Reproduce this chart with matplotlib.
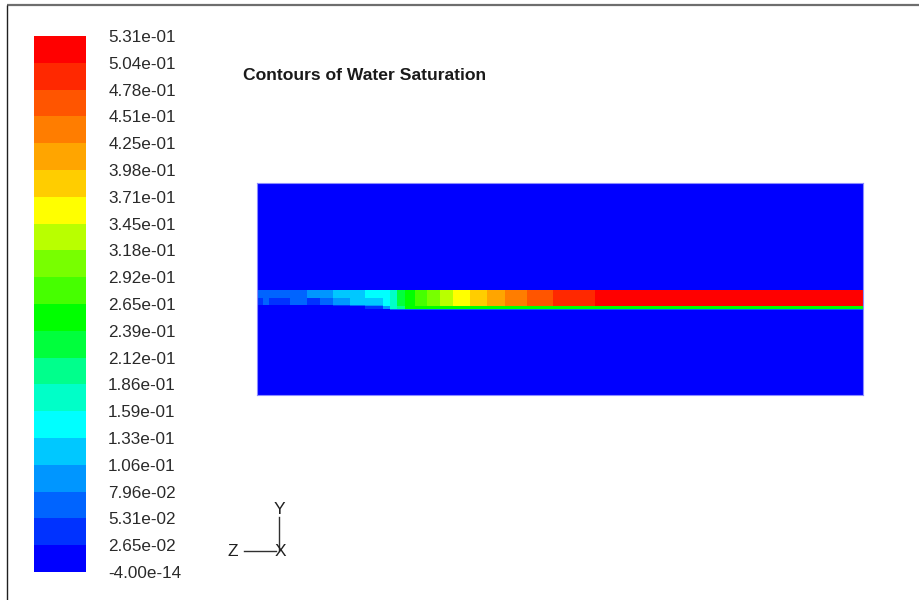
import numpy as np
import matplotlib
matplotlib.use("Agg")
import matplotlib.pyplot as plt
from matplotlib.colors import ListedColormap, BoundaryNorm

plt.rcParams['font.family'] = ['Liberation Sans', 'DejaVu Sans']

# colour scale of the legend, bottom -> top
level_labels = ["-4.00e-14", "2.65e-02", "5.31e-02", "7.96e-02", "1.06e-01",
                "1.33e-01", "1.59e-01", "1.86e-01", "2.12e-01", "2.39e-01",
                "2.65e-01", "2.92e-01", "3.18e-01", "3.45e-01", "3.71e-01",
                "3.98e-01", "4.25e-01", "4.51e-01", "4.78e-01", "5.04e-01",
                "5.31e-01"]
levels = [float(s) for s in level_labels]

band_colors = ["#0000ff", "#0032ff", "#0064ff", "#0096ff", "#00c8ff",
               "#00ffff", "#00ffc8", "#00ff8c", "#00ff3c", "#00ff00",
               "#46ff00", "#78ff00", "#b9ff00", "#ffff00", "#ffcd00",
               "#ffa500", "#ff7d00", "#ff5500", "#ff2800", "#ff0000"]

# domain geometry (x/L, y/H) of the saturation field
x_edges = [0, 0.01, 0.02, 0.055, 0.083, 0.104, 0.125, 0.154, 0.178, 0.208,
           0.22, 0.231, 0.244, 0.261, 0.281, 0.302, 0.323, 0.352, 0.38,
           0.409, 0.446, 0.488, 0.558, 1.0]
y_edges = [0, 0.400, 0.4057, 0.4175, 0.4245, 0.4552, 0.493, 1.0]

# water saturation in the layer, one row per band of cells (bottom -> top)
sat_under = [0.01, 0.01, 0.01, 0.01, 0.01, 0.01, 0.01, 0.01, 0.01, 0.01,
             0.065, 0.065, 0.065, 0.065, 0.065, 0.065, 0.065, 0.065, 0.065,
             0.065, 0.065, 0.065, 0.065]
sat_interface = [0.01, 0.01, 0.01, 0.01, 0.01, 0.01, 0.01, 0.01, 0.04, 0.09,
                 0.17, 0.2, 0.25, 0.25, 0.25, 0.25, 0.25, 0.25, 0.25,
                 0.25, 0.25, 0.25, 0.25]
sat_edge = [0.01, 0.01, 0.01, 0.01, 0.01, 0.01, 0.04, 0.065, 0.09, 0.14,
            0.17, 0.225, 0.25, 0.28, 0.30, 0.33, 0.36, 0.385, 0.41,
            0.44, 0.465, 0.49, 0.52]
sat_lower = [0.04, 0.065, 0.04, 0.065, 0.04, 0.065, 0.09, 0.12, 0.12, 0.14,
             0.17, 0.225, 0.25, 0.28, 0.30, 0.33, 0.36, 0.385, 0.41,
             0.44, 0.465, 0.49, 0.52]
sat_upper = [0.065, 0.065, 0.065, 0.065, 0.09, 0.09, 0.12, 0.12, 0.14, 0.145,
             0.17, 0.225, 0.25, 0.28, 0.30, 0.33, 0.36, 0.385, 0.41,
             0.44, 0.465, 0.49, 0.52]

ncol = len(x_edges) - 1
field = np.vstack([np.zeros(ncol), sat_under, sat_interface, sat_edge,
                   sat_lower, sat_upper, np.zeros(ncol)])

cmap = ListedColormap(band_colors)
norm = BoundaryNorm(levels, cmap.N)

W, H = 920, 600
fig = plt.figure(figsize=(W / 100, H / 100), dpi=100)

def px_axes(x0, y0, x1, y1, **kw):
    return fig.add_axes([x0 / W, 1 - y1 / H, (x1 - x0) / W, (y1 - y0) / H], **kw)

# contour domain
ax = px_axes(257, 183, 863, 395)
mesh = ax.pcolormesh(x_edges, y_edges, field, cmap=cmap, norm=norm,
                     shading='flat', antialiased=False, edgecolors='none')
ax.set_xlim(0, 1)
ax.set_ylim(0, 1)
ax.set_xticks([])
ax.set_yticks([])
for s in ax.spines.values():
    s.set_color('#8c8cff')
    s.set_linewidth(0.8)

# legend bar
cax = px_axes(34, 36, 86, 572)
cb = fig.colorbar(mesh, cax=cax, ticks=levels, spacing='uniform')
cb.outline.set_visible(False)
cb.ax.set_yticklabels(level_labels)
cb.ax.tick_params(length=0, pad=16, labelsize=12.3, labelcolor='#2a2a2a')
for t in cb.ax.get_yticklabels():
    t.set_y(t.get_position()[1])
    t.set_verticalalignment('center_baseline')

# overlay for frame, title and axis triad
ov = fig.add_axes([0, 0, 1, 1], facecolor='none')
ov.set_xlim(0, W)
ov.set_ylim(H, 0)
ov.axis('off')
ov.plot([7, W], [5, 5], color='#6e6e6e', lw=1.6, solid_capstyle='butt')
ov.plot([7, 7], [5, H], color='#202020', lw=1.0, solid_capstyle='butt')

ov.text(243, 75, "Contours of Water Saturation", fontsize=12.6, fontweight='bold',
        color='#1a1a1a', ha='left', va='center')

ov.plot([279.5, 279.5], [517, 551], color='#303030', lw=1.0)
ov.plot([244, 276], [551, 551], color='#303030', lw=1.0)
ov.text(279.5, 510, "Y", fontsize=12.5, color='#202020', ha='center', va='center')
ov.text(280, 551, "X", fontsize=12.5, color='#202020', ha='center', va='center')
ov.text(233, 551, "Z", fontsize=12.5, color='#202020', ha='center', va='center')

fig.savefig("out.png", dpi=100)
